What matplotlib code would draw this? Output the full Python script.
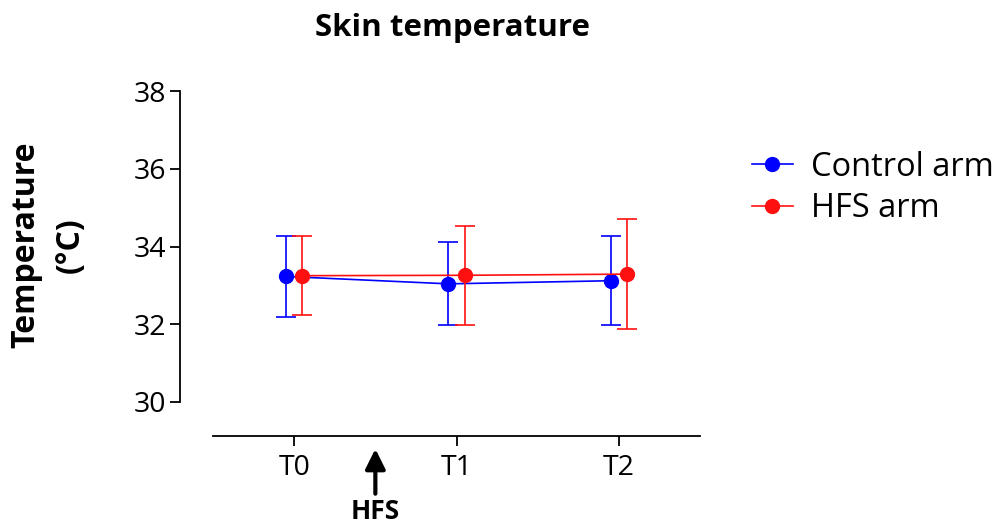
import matplotlib
matplotlib.use("Agg")
from matplotlib import pyplot as plt
import numpy as np

plt.rcParams['font.family'] = ['Open Sans', 'DejaVu Sans']

timepoints = ["T0", "T1", "T2"]
control_mean = [33.23, 33.04, 33.12]
control_sd = [1.05, 1.07, 1.14]
hfs_mean = [33.25, 33.26, 33.29]
hfs_sd = [1.02, 1.27, 1.41]

x = np.arange(len(timepoints))
dodge = 0.05

fig = plt.figure(figsize=(10.04, 5.27), dpi=100)
ax = fig.add_axes([0.2122, 0.2372, 0.485, 0.590])

ctrl = ax.errorbar(x - dodge, control_mean, yerr=control_sd, color="#0000ff",
                   marker="o", markersize=10, lw=1.2, elinewidth=1.2, capsize=7,
                   capthick=1.2, zorder=3)
hfs = ax.errorbar(x + dodge, hfs_mean, yerr=hfs_sd, color="#ff1010",
                  marker="o", markersize=10, lw=1.2, elinewidth=1.2, capsize=7,
                  capthick=1.2, zorder=4)

ax.set_xlim(-0.5, 2.5)
ax.set_ylim(30, 38)
ax.set_xticks(x)
ax.set_xticklabels(timepoints)
ax.set_yticks([30, 32, 34, 36, 38])

ax.spines[['right', 'top']].set_visible(False)
ax.spines['left'].set_position(('outward', 23.8))
ax.spines['bottom'].set_position(('outward', 24.5))
for s in ['left', 'bottom']:
    ax.spines[s].set_linewidth(1.3)
ax.tick_params(axis='both', direction='out', length=7.2, width=1.3,
               labelsize=20.5)
ax.tick_params(axis='y', pad=3)
ax.tick_params(axis='x', pad=6)

fig.text(453 / 1004, 1 - 28 / 527, "Skin temperature", fontsize=22.5,
         fontweight='bold', ha='center', va='center')
fig.text(48 / 1004, 1 - 245 / 527, "Temperature\n(°C)", fontsize=23,
         fontweight='bold', ha='center', va='center', rotation=90,
         linespacing=1.45, multialignment='center')

# HFS stimulation marker between T0 and T1
ax.annotate("", xy=(0.5, -0.151), xycoords=('data', 'axes fraction'),
            xytext=(0.5, -0.295), textcoords=('data', 'axes fraction'),
            arrowprops=dict(arrowstyle='-|>', color='black', lw=3,
                            mutation_scale=30, shrinkA=0, shrinkB=0),
            annotation_clip=False)
ax.text(0.5, -0.352, "HFS", transform=ax.get_xaxis_transform(),
        ha='center', va='center', fontsize=19, fontweight='bold')

ax.legend([ctrl[0], hfs[0]], ["Control arm", "HFS arm"],
          loc='center left', bbox_to_anchor=(752 / 1004, 1 - 188 / 527),
          bbox_transform=fig.transFigure, frameon=False, borderpad=0,
          fontsize=23.5, handlelength=1.25, handletextpad=0.55, labelspacing=0.25,
          borderaxespad=0)

fig.savefig("out.png", dpi=100)
